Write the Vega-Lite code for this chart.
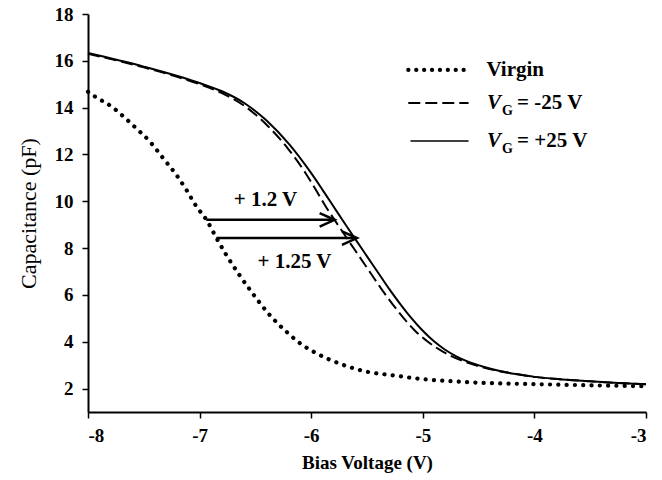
{
  "$schema": "https://vega.github.io/schema/vega-lite/v6.json",
  "width": 558,
  "height": 398,
  "autosize": {"type": "none"},
  "padding": {"left": 88, "top": 14, "right": 16, "bottom": 68},
  "background": "white",
  "config": {
    "view": {"stroke": null},
    "font": "Liberation Serif",
    "axis": {"grid": false, "domainColor": "black", "domainWidth": 2, "tickColor": "black", "tickWidth": 1.5, "tickSize": 6,
      "labelFont": "Liberation Serif", "labelFontWeight": "bold", "labelFontSize": 19, "labelColor": "black",
      "titleFont": "Liberation Serif", "titleColor": "black"}
  },
  "datasets": {
    "curves": [
      {"s": "Virgin", "x": -8.00, "y": 14.68}, {"s": "Virgin", "x": -7.94, "y": 14.48}, {"s": "Virgin", "x": -7.79, "y": 14.05},
      {"s": "Virgin", "x": -7.65, "y": 13.48}, {"s": "Virgin", "x": -7.58, "y": 13.17}, {"s": "Virgin", "x": -7.44, "y": 12.52},
      {"s": "Virgin", "x": -7.33, "y": 11.86}, {"s": "Virgin", "x": -7.21, "y": 11.14}, {"s": "Virgin", "x": -7.12, "y": 10.50},
      {"s": "Virgin", "x": -7.03, "y": 9.79}, {"s": "Virgin", "x": -6.94, "y": 9.22}, {"s": "Virgin", "x": -6.85, "y": 8.44},
      {"s": "Virgin", "x": -6.76, "y": 7.70}, {"s": "Virgin", "x": -6.65, "y": 6.90}, {"s": "Virgin", "x": -6.53, "y": 6.10},
      {"s": "Virgin", "x": -6.36, "y": 5.08}, {"s": "Virgin", "x": -6.22, "y": 4.42}, {"s": "Virgin", "x": -6.09, "y": 3.90},
      {"s": "Virgin", "x": -5.95, "y": 3.50}, {"s": "Virgin", "x": -5.73, "y": 3.04}, {"s": "Virgin", "x": -5.50, "y": 2.72},
      {"s": "Virgin", "x": -5.29, "y": 2.58}, {"s": "Virgin", "x": -5.01, "y": 2.41}, {"s": "Virgin", "x": -4.73, "y": 2.31},
      {"s": "Virgin", "x": -4.49, "y": 2.25}, {"s": "Virgin", "x": -4.00, "y": 2.19}, {"s": "Virgin", "x": -3.50, "y": 2.14},
      {"s": "Virgin", "x": -3.00, "y": 2.10},
      {"s": "Neg", "x": -8.00, "y": 16.30}, {"s": "Neg", "x": -7.50, "y": 15.72}, {"s": "Neg", "x": -7.00, "y": 15.00},
      {"s": "Neg", "x": -6.80, "y": 14.62}, {"s": "Neg", "x": -6.60, "y": 14.08}, {"s": "Neg", "x": -6.40, "y": 13.27},
      {"s": "Neg", "x": -6.20, "y": 12.20}, {"s": "Neg", "x": -6.05, "y": 11.20}, {"s": "Neg", "x": -5.96, "y": 10.50},
      {"s": "Neg", "x": -5.87, "y": 9.78}, {"s": "Neg", "x": -5.79, "y": 9.20}, {"s": "Neg", "x": -5.67, "y": 8.35},
      {"s": "Neg", "x": -5.57, "y": 7.65}, {"s": "Neg", "x": -5.47, "y": 6.95}, {"s": "Neg", "x": -5.37, "y": 6.25},
      {"s": "Neg", "x": -5.27, "y": 5.60}, {"s": "Neg", "x": -5.17, "y": 5.00}, {"s": "Neg", "x": -5.07, "y": 4.47},
      {"s": "Neg", "x": -4.96, "y": 4.02}, {"s": "Neg", "x": -4.85, "y": 3.66}, {"s": "Neg", "x": -4.74, "y": 3.38},
      {"s": "Neg", "x": -4.63, "y": 3.16}, {"s": "Neg", "x": -4.47, "y": 2.92}, {"s": "Neg", "x": -4.31, "y": 2.74},
      {"s": "Neg", "x": -4.15, "y": 2.61}, {"s": "Neg", "x": -4.00, "y": 2.50}, {"s": "Neg", "x": -3.75, "y": 2.39},
      {"s": "Neg", "x": -3.50, "y": 2.31}, {"s": "Neg", "x": -3.25, "y": 2.24}, {"s": "Neg", "x": -3.00, "y": 2.19},
      {"s": "Pos", "x": -8.00, "y": 16.33}, {"s": "Pos", "x": -7.50, "y": 15.75}, {"s": "Pos", "x": -7.00, "y": 15.05},
      {"s": "Pos", "x": -6.80, "y": 14.70}, {"s": "Pos", "x": -6.60, "y": 14.20}, {"s": "Pos", "x": -6.40, "y": 13.45},
      {"s": "Pos", "x": -6.20, "y": 12.45}, {"s": "Pos", "x": -6.00, "y": 11.20}, {"s": "Pos", "x": -5.90, "y": 10.50},
      {"s": "Pos", "x": -5.80, "y": 9.78}, {"s": "Pos", "x": -5.72, "y": 9.20}, {"s": "Pos", "x": -5.60, "y": 8.35},
      {"s": "Pos", "x": -5.50, "y": 7.65}, {"s": "Pos", "x": -5.40, "y": 6.95}, {"s": "Pos", "x": -5.30, "y": 6.25},
      {"s": "Pos", "x": -5.20, "y": 5.60}, {"s": "Pos", "x": -5.10, "y": 5.00}, {"s": "Pos", "x": -5.00, "y": 4.47},
      {"s": "Pos", "x": -4.90, "y": 4.02}, {"s": "Pos", "x": -4.80, "y": 3.66}, {"s": "Pos", "x": -4.70, "y": 3.38},
      {"s": "Pos", "x": -4.60, "y": 3.16}, {"s": "Pos", "x": -4.45, "y": 2.92}, {"s": "Pos", "x": -4.30, "y": 2.74},
      {"s": "Pos", "x": -4.15, "y": 2.61}, {"s": "Pos", "x": -4.00, "y": 2.50}, {"s": "Pos", "x": -3.75, "y": 2.39},
      {"s": "Pos", "x": -3.50, "y": 2.31}, {"s": "Pos", "x": -3.25, "y": 2.24}, {"s": "Pos", "x": -3.00, "y": 2.19}
    ],
    "legendLines": [
      {"s": "Virgin", "x": -5.13, "y": 15.61}, {"s": "Virgin", "x": -4.58, "y": 15.61},
      {"s": "Neg", "x": -5.13, "y": 14.20}, {"s": "Neg", "x": -4.59, "y": 14.20},
      {"s": "Pos", "x": -5.11, "y": 12.58}, {"s": "Pos", "x": -4.59, "y": 12.58}
    ],
    "arrows": [
      {"a": "A1", "x": -6.94, "y": 9.21}, {"a": "A1", "x": -5.80, "y": 9.21},
      {"a": "A2", "x": -6.85, "y": 8.43}, {"a": "A2", "x": -5.60, "y": 8.43}
    ],
    "heads": [
      {"a": "A1", "x": -5.79, "y": 9.21},
      {"a": "A2", "x": -5.59, "y": 8.43}
    ]
  },
  "layer": [
    {
      "data": {"name": "curves"},
      "transform": [{"filter": "datum.s === 'Virgin'"}],
      "mark": {"type": "line", "color": "black", "strokeWidth": 4.2, "strokeDash": [0.1, 8.2], "strokeCap": "round", "interpolate": "monotone"},
      "encoding": {
        "x": {"field": "x", "type": "quantitative", "scale": {"domain": [-8, -3], "nice": false},
          "axis": {"values": [-8, -7, -6, -5, -4, -3], "labelExpr": "'' + datum.value", "title": "Bias Voltage (V)", "titleColor": "black", "titleFontSize": 19, "titleFontWeight": "bold", "titlePadding": 8, "labelPadding": 8}},
        "y": {"field": "y", "type": "quantitative", "scale": {"domain": [1, 18], "nice": false},
          "axis": {"values": [2, 4, 6, 8, 10, 12, 14, 16, 18], "labelExpr": "'' + datum.value", "title": "Capacitance (pF)", "titleColor": "black", "titleFontSize": 22, "titleFontWeight": "normal", "titlePadding": 14, "labelPadding": 9}}
      }
    },
    {
      "data": {"name": "curves"},
      "transform": [{"filter": "datum.s === 'Neg'"}],
      "mark": {"type": "line", "color": "black", "strokeWidth": 2, "strokeDash": [12, 5], "interpolate": "monotone"},
      "encoding": {"x": {"field": "x", "type": "quantitative"}, "y": {"field": "y", "type": "quantitative"}}
    },
    {
      "data": {"name": "curves"},
      "transform": [{"filter": "datum.s === 'Pos'"}],
      "mark": {"type": "line", "color": "black", "strokeWidth": 2, "interpolate": "monotone"},
      "encoding": {"x": {"field": "x", "type": "quantitative"}, "y": {"field": "y", "type": "quantitative"}}
    },
    {
      "data": {"name": "legendLines"},
      "transform": [{"filter": "datum.s === 'Virgin'"}],
      "mark": {"type": "line", "color": "black", "strokeWidth": 4.2, "strokeDash": [0.1, 7.8], "strokeCap": "round"},
      "encoding": {"x": {"field": "x", "type": "quantitative"}, "y": {"field": "y", "type": "quantitative"}}
    },
    {
      "data": {"name": "legendLines"},
      "transform": [{"filter": "datum.s === 'Neg'"}],
      "mark": {"type": "line", "color": "black", "strokeWidth": 2, "strokeDash": [12, 5]},
      "encoding": {"x": {"field": "x", "type": "quantitative"}, "y": {"field": "y", "type": "quantitative"}}
    },
    {
      "data": {"name": "legendLines"},
      "transform": [{"filter": "datum.s === 'Pos'"}],
      "mark": {"type": "line", "color": "black", "strokeWidth": 1.5},
      "encoding": {"x": {"field": "x", "type": "quantitative"}, "y": {"field": "y", "type": "quantitative"}}
    },
    {
      "data": {"name": "arrows"},
      "mark": {"type": "line", "color": "black", "strokeWidth": 2.5},
      "encoding": {"x": {"field": "x", "type": "quantitative"}, "y": {"field": "y", "type": "quantitative"}, "detail": {"field": "a"}}
    },
    {
      "data": {"name": "heads"},
      "mark": {"type": "point", "shape": "M -1 -0.45 L 0 0 L -1 0.45", "filled": false, "stroke": "black", "strokeWidth": 2.5, "size": 900, "opacity": 1},
      "encoding": {"x": {"field": "x", "type": "quantitative"}, "y": {"field": "y", "type": "quantitative"}}
    },
    {
      "data": {"values": [
        {"t": "+ 1.2 V", "x": -6.41, "y": 10.07},
        {"t": "+ 1.25 V", "x": -6.15, "y": 7.39}
      ]},
      "mark": {"type": "text", "font": "Liberation Serif", "fontWeight": "bold", "fontSize": 21, "baseline": "middle", "align": "center", "color": "black"},
      "encoding": {"x": {"field": "x", "type": "quantitative"}, "y": {"field": "y", "type": "quantitative"}, "text": {"field": "t"}}
    },
    {
      "data": {"values": [
        {"t": "Virgin", "x": -4.43, "y": 15.61},
        {"t": "= -25 V", "x": -4.155, "y": 14.20},
        {"t": "= +25 V", "x": -4.155, "y": 12.58}
      ]},
      "mark": {"type": "text", "font": "Liberation Serif", "fontWeight": "bold", "fontSize": 21, "baseline": "middle", "align": "left", "color": "black"},
      "encoding": {"x": {"field": "x", "type": "quantitative"}, "y": {"field": "y", "type": "quantitative"}, "text": {"field": "t"}}
    },
    {
      "data": {"values": [
        {"t": "V", "x": -4.425, "y": 14.20},
        {"t": "V", "x": -4.425, "y": 12.58}
      ]},
      "mark": {"type": "text", "font": "Liberation Serif", "fontWeight": "bold", "fontStyle": "italic", "fontSize": 21, "baseline": "middle", "align": "left", "color": "black"},
      "encoding": {"x": {"field": "x", "type": "quantitative"}, "y": {"field": "y", "type": "quantitative"}, "text": {"field": "t"}}
    },
    {
      "data": {"values": [
        {"t": "G", "x": -4.29, "y": 14.20},
        {"t": "G", "x": -4.29, "y": 12.58}
      ]},
      "mark": {"type": "text", "font": "Liberation Serif", "fontWeight": "bold", "fontSize": 14, "baseline": "middle", "align": "left", "dy": 8, "color": "black"},
      "encoding": {"x": {"field": "x", "type": "quantitative"}, "y": {"field": "y", "type": "quantitative"}, "text": {"field": "t"}}
    }
  ]
}
